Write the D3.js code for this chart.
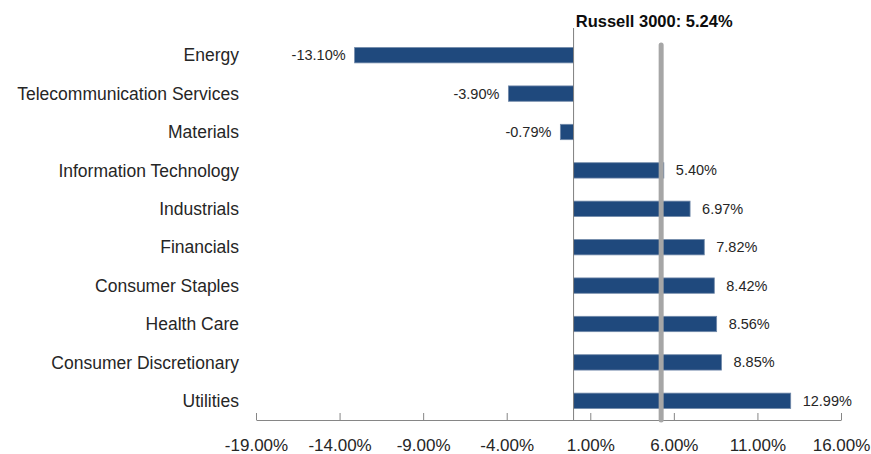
<!DOCTYPE html>
<html>
<head>
<meta charset="utf-8">
<script src="https://cdn.jsdelivr.net/npm/d3@7"></script>
<style>
  body { margin: 0; background: #fff; }
  #chart { width: 871px; height: 454px; }
  text { font-family: "Liberation Sans", Arial, sans-serif; fill: #262626; }
</style>
</head>
<body>
<div id="chart"></div>
<script>
// sector returns
const sectors = ['Energy', 'Telecommunication Services', 'Materials', 'Information Technology',
    'Industrials', 'Financials', 'Consumer Staples', 'Health Care', 'Consumer Discretionary', 'Utilities'];
const returns = [-13.10, -3.90, -0.79, 5.40, 6.97, 7.82, 8.42, 8.56, 8.85, 12.99];
const benchmarkName = 'Russell 3000';
const benchmarkReturn = 5.24;
const tickValues = [-19, -14, -9, -4, 1, 6, 11, 16];

const container = document.getElementById('chart');
const width = 871, height = 454;

const svg = d3.select(container)
    .append('svg')
    .attr('width', width)
    .attr('height', height);

const data = sectors.map((s, i) => ({ sector: s, value: returns[i] }));

const x = d3.scaleLinear()
    .domain([-19, 16])
    .range([256, 841]);

const y = d3.scaleBand()
    .domain(sectors)
    .range([36, 420])
    .paddingInner(0.6)
    .paddingOuter(0.3);

const fmt = v => v.toFixed(2) + '%';

// x axis, ticks pointing up
const xAxis = d3.axisBottom(x)
    .tickValues(tickValues)
    .tickSizeInner(-7)
    .tickSizeOuter(0)
    .tickPadding(19)
    .tickFormat(fmt);

const axisG = svg.append('g')
    .attr('transform', `translate(0, 420)`)
    .call(xAxis);
axisG.select('.domain').attr('stroke', '#868686');
axisG.selectAll('.tick line').attr('stroke', '#868686');
axisG.selectAll('.tick text')
    .style('font-size', '17px')
    .style('font-family', '"Liberation Sans", Arial, sans-serif')
    .attr('fill', '#262626');

// bars
svg.append('g')
    .selectAll('rect')
    .data(data)
    .enter().append('rect')
    .attr('x', d => x(Math.min(0, d.value)))
    .attr('y', d => y(d.sector))
    .attr('width', d => Math.abs(x(d.value) - x(0)))
    .attr('height', y.bandwidth())
    .attr('fill', '#1f497d')
    .attr('stroke', '#7189a9')
    .attr('stroke-width', 0.8);

// zero line
svg.append('line')
    .attr('x1', x(0)).attr('x2', x(0))
    .attr('y1', 28).attr('y2', 420)
    .attr('stroke', '#7f7f7f')
    .attr('stroke-width', 1);

// benchmark line
svg.append('line')
    .attr('x1', x(benchmarkReturn)).attr('x2', x(benchmarkReturn))
    .attr('y1', 45).attr('y2', 420)
    .attr('stroke', '#a6a6a6')
    .attr('stroke-width', 5)
    .attr('stroke-linecap', 'round');

svg.append('text')
    .attr('x', x(benchmarkReturn) - 7)
    .attr('y', 27)
    .attr('text-anchor', 'middle')
    .style('font-size', '16.5px')
    .style('font-weight', 'bold')
    .style('fill', '#0d0d0d')
    .text(`${benchmarkName}: ${fmt(benchmarkReturn)}`);

// category labels
svg.append('g')
    .selectAll('text')
    .data(data)
    .enter().append('text')
    .attr('x', 239)
    .attr('y', d => y(d.sector) + y.bandwidth() / 2)
    .attr('dy', '0.35em')
    .attr('text-anchor', 'end')
    .style('font-size', '17.5px')
    .text(d => d.sector);

// value labels
svg.append('g')
    .selectAll('text')
    .data(data)
    .enter().append('text')
    .attr('x', d => d.value < 0 ? x(d.value) - 9 : x(d.value) + 12)
    .attr('y', d => y(d.sector) + y.bandwidth() / 2)
    .attr('dy', '0.35em')
    .attr('text-anchor', d => d.value < 0 ? 'end' : 'start')
    .style('font-size', '14.5px')
    .text(d => fmt(d.value));
</script>
</body>
</html>
